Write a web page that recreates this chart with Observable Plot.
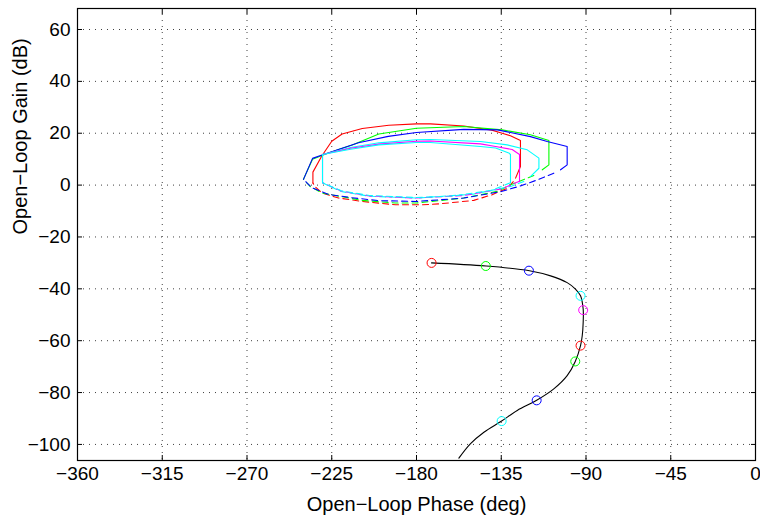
<!DOCTYPE html>
<html><head><meta charset="utf-8">
<script src="https://cdn.jsdelivr.net/npm/d3@7"></script>
<script src="https://cdn.jsdelivr.net/npm/@observablehq/plot@0.6"></script>
<style>body{margin:0;background:#fff}</style>
</head><body><div id="chart"></div>
<script>
// Axis ticks
const phaseTicks = [-360, -315, -270, -225, -180, -135, -90, -45, 0];
const gainTicks = [-100, -80, -60, -40, -20, 0, 20, 40, 60];
const phaseDomain = [-360, 0];
const gainDomain = [-106.2, 68.1];

// Loops: [phase (deg), gain (dB)]
const redSolid = [[-235.0,0.8],[-235.0,5.0],[-230.3,11.2],[-225,16.9],[-219.5,19.7],[-208.8,21.8],[-194.7,23.1],[-180,23.6],[-172.6,23.6],[-154.9,22.8],[-140,21.2],[-134.5,20],[-130.1,19],[-124.8,17.2],[-124.8,7.2],[-127.4,2.7]];
const redDashed = [[-128.6,1.3],[-131.8,-1.2],[-139.8,-3.7],[-149.6,-5.9],[-167.3,-7.2],[-177,-7.6],[-191.1,-7.6],[-208.8,-6.3],[-221.3,-5.0],[-230.1,-3.1],[-233.6,-0.8],[-235,0.8]];
const greenSolid = [[-240,2.3],[-235.2,10],[-229.2,11.7],[-221,13.8],[-214.1,15.5],[-200,19.7],[-180,21.9],[-154.9,22.6],[-134.5,21.3],[-119.5,19.4],[-109.7,17.2],[-109.7,7.8],[-113.2,5.9]];
const greenDashed = [[-117.7,3.7],[-121.2,2.7],[-130.1,0.1],[-137,-2.4],[-154.9,-5],[-180,-6.9],[-191.1,-6.9],[-208.8,-5.9],[-230.1,-3.1],[-236.5,-0.5],[-240,2.3]];
const blueSolid = [[-240,2.2],[-235.2,10.3],[-229.4,11.8],[-210.8,16.3],[-195,18.8],[-180,20.3],[-154.9,21.5],[-137,21.3],[-119.5,18.7],[-110.6,16.8],[-100,14.9],[-100,7.8],[-103.5,5.9]];
const blueDashed = [[-107.1,4.6],[-111.5,3.3],[-115.9,2.0],[-120.4,0.8],[-124.8,-0.3],[-135,-2.5],[-155,-5],[-180,-6.3],[-200,-6],[-215,-4.8],[-226.7,-3.6],[-235.6,-1.0],[-238.2,0.9],[-240,2.2]];
const cyanOuterSolid = [[-229.9,11.8],[-215,14.5],[-200,16.3],[-180,17.5],[-172.6,17.6],[-146,16.8],[-131.8,15.5],[-121.2,13.6],[-115,10.4],[-115,6.5],[-119.5,3.3]];
const cyanOuterDashed = [[-123,1.4],[-130,-0.5],[-150,-3.5],[-180,-5],[-205,-4.3],[-220,-2.5],[-229.9,0.9]];
const magentaSolid = [[-229.9,0.9],[-229.9,11.8],[-215,14.2],[-200,15.8],[-180,16.9],[-172.6,17.0],[-146,15.9],[-138,14.9],[-129.2,13.7],[-125.3,11.8],[-125.3,1.5]];
const magentaDashed = [[-125.3,1.5],[-135,-1.5],[-155,-4],[-180,-5],[-205,-4.2],[-220,-2.3],[-229.9,0.9]];
const cyanInnerSolid = [[-229.9,0.9],[-229.9,11.8],[-215,13.8],[-200,15.5],[-180,16.4],[-172.6,16.4],[-146,14.9],[-138,14.3],[-131,12.4],[-130.1,11.8],[-130.1,0.9]];
const cyanInnerDashed = [[-130.1,0.9],[-140,-2],[-160,-4.2],[-180,-4.8],[-205,-4.0],[-220,-2.2],[-229.9,0.9]];

// Black response curve
const responsePhase = [-172,-143,-120,-108.8,-100,-95.6,-92.9,-91.5,-91.5,-92,-92.9,-95.7,-100,-107.1,-116.2,-126.5,-134.8,-144.2,-151.3,-157.5];
const responseGain  = [-30,-31.2,-33,-35,-37.6,-40.1,-42.7,-47.8,-53,-58.1,-61.9,-68,-73.5,-78.6,-83,-86.9,-91,-95.3,-99.7,-105.3];

// Markers
const markerPhase = [-172,-143.2,-120.3,-92.9,-91.5,-92.9,-95.7,-116.2,-134.8];
const markerGain  = [-30,-31.2,-33,-42.7,-48.2,-61.9,-68,-83,-91];
const markerColor = ["#ff0000","#00ff00","#0000ff","#00ffff","#ff00ff","#ff0000","#00ff00","#0000ff","#00ffff"];

const loops = [
  {color: "#ff0000", solid: redSolid, dashed: redDashed},
  {color: "#00ff00", solid: greenSolid, dashed: greenDashed},
  {color: "#0000ff", solid: blueSolid, dashed: blueDashed},
  {color: "#00ffff", solid: cyanOuterSolid, dashed: cyanOuterDashed},
  {color: "#ff00ff", solid: magentaSolid, dashed: magentaDashed},
  {color: "#00ffff", solid: cyanInnerSolid, dashed: cyanInnerDashed}
];

const response = responsePhase.map((p, i) => ({phase: p, gain: responseGain[i]}));
const markers = markerPhase.map((p, i) => ({phase: p, gain: markerGain[i], color: markerColor[i]}));

const lineMarks = [];
for (const L of loops) {
  lineMarks.push(Plot.line(L.solid, {x: d => d[0], y: d => d[1], stroke: L.color, strokeWidth: 1.1}));
  lineMarks.push(Plot.line(L.dashed, {x: d => d[0], y: d => d[1], stroke: L.color, strokeWidth: 1.1, strokeDasharray: "6,4"}));
}

const chart = Plot.plot({
  width: 760,
  height: 522,
  marginLeft: 77,
  marginRight: 5,
  marginTop: 8,
  marginBottom: 62,
  style: {fontFamily: "'Liberation Sans', Arial, sans-serif", fontSize: "19px", background: "#fff", color: "#000"},
  x: {domain: phaseDomain, ticks: phaseTicks},
  y: {domain: gainDomain, ticks: gainTicks},
  color: {type: "identity"},
  marks: [
    Plot.gridX(phaseTicks, {stroke: "#000", strokeOpacity: 0.75, strokeDasharray: "1,5"}),
    Plot.gridY(gainTicks, {stroke: "#000", strokeOpacity: 0.75, strokeDasharray: "1,5"}),
    ...lineMarks,
    Plot.line(response, {x: "phase", y: "gain", stroke: "#000", strokeWidth: 1.1, curve: "catmull-rom"}),
    Plot.dot(markers, {x: "phase", y: "gain", r: 4.5, stroke: "color", fill: "none", strokeWidth: 1}),
    Plot.axisX(phaseTicks, {anchor: "bottom", tickSize: -5, tickPadding: 11, label: null, fontSize: 19}),
    Plot.axisX(phaseTicks, {anchor: "top", tickSize: -5, tickFormat: () => "", label: null}),
    Plot.axisY(gainTicks, {anchor: "left", tickSize: -5, tickPadding: 12, label: null, fontSize: 19}),
    Plot.axisY(gainTicks, {anchor: "right", tickSize: -5, tickFormat: () => "", label: null}),
    Plot.frame({stroke: "#000", strokeWidth: 1.2}),
    Plot.text(["Open−Loop Phase (deg)"], {frameAnchor: "bottom", dy: 50, fontSize: 20}),
    Plot.text(["Open−Loop Gain (dB)"], {frameAnchor: "left", dx: -57, rotate: -90, fontSize: 20})
  ]
});
document.getElementById("chart").appendChild(chart);
</script>
</body></html>
